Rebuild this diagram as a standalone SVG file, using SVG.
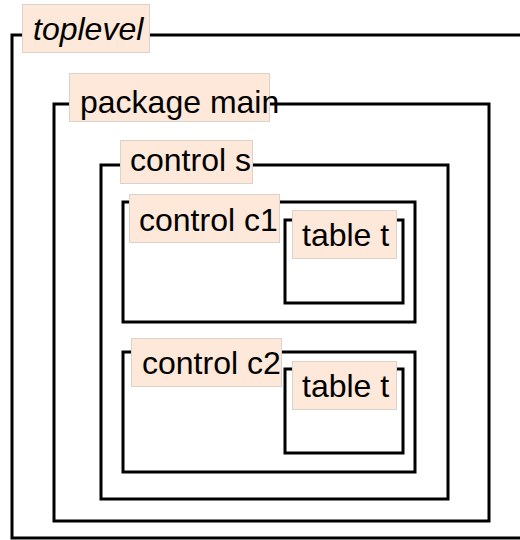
<svg xmlns="http://www.w3.org/2000/svg" width="520" height="540" viewBox="0 0 520 540">
<style>
.frame{fill:none;stroke:#000;stroke-width:3}
.lbl{fill:#fde8d9;stroke:#ddd2ca;stroke-width:1}
.t{font-family:"Liberation Sans",Arial,sans-serif;font-size:32px;fill:#000}
.it{font-style:italic}
</style>
<rect width="520" height="540" fill="#fff"/>
<g id="toplevel">
<rect class="frame" x="12" y="35" width="530" height="503"/>
<rect class="lbl" x="22.5" y="4.5" width="127" height="48"/>
<text class="t it" x="33" y="40">toplevel</text>
</g>
<g id="package-main">
<rect class="frame" x="54" y="104" width="435" height="417"/>
<rect class="lbl" x="69.5" y="73.5" width="200" height="48"/>
<text class="t" x="80" y="113">package main</text>
</g>
<g id="control-s">
<rect class="frame" x="101" y="165" width="347" height="334"/>
<rect class="lbl" x="120.5" y="140.5" width="132" height="43"/>
<text class="t" x="130" y="171">control s</text>
</g>
<g id="control-c1">
<rect class="frame" x="123" y="202" width="292" height="120"/>
<rect class="lbl" x="129.5" y="194.5" width="150" height="48"/>
<text class="t" x="139" y="231">control c1</text>
</g>
<g id="table-t-1">
<rect class="frame" x="285" y="220" width="118" height="83"/>
<rect class="lbl" x="292.5" y="210.5" width="104" height="48"/>
<text class="t" x="302" y="246">table t</text>
</g>
<g id="control-c2">
<rect class="frame" x="123" y="352" width="292" height="120"/>
<rect class="lbl" x="131.5" y="338.5" width="150" height="48"/>
<text class="t" x="142" y="374">control c2</text>
</g>
<g id="table-t-2">
<rect class="frame" x="285" y="369" width="118" height="84"/>
<rect class="lbl" x="292.5" y="361.5" width="104" height="48"/>
<text class="t" x="302" y="397">table t</text>
</g>
<g id="connectors"></g>
</svg>
